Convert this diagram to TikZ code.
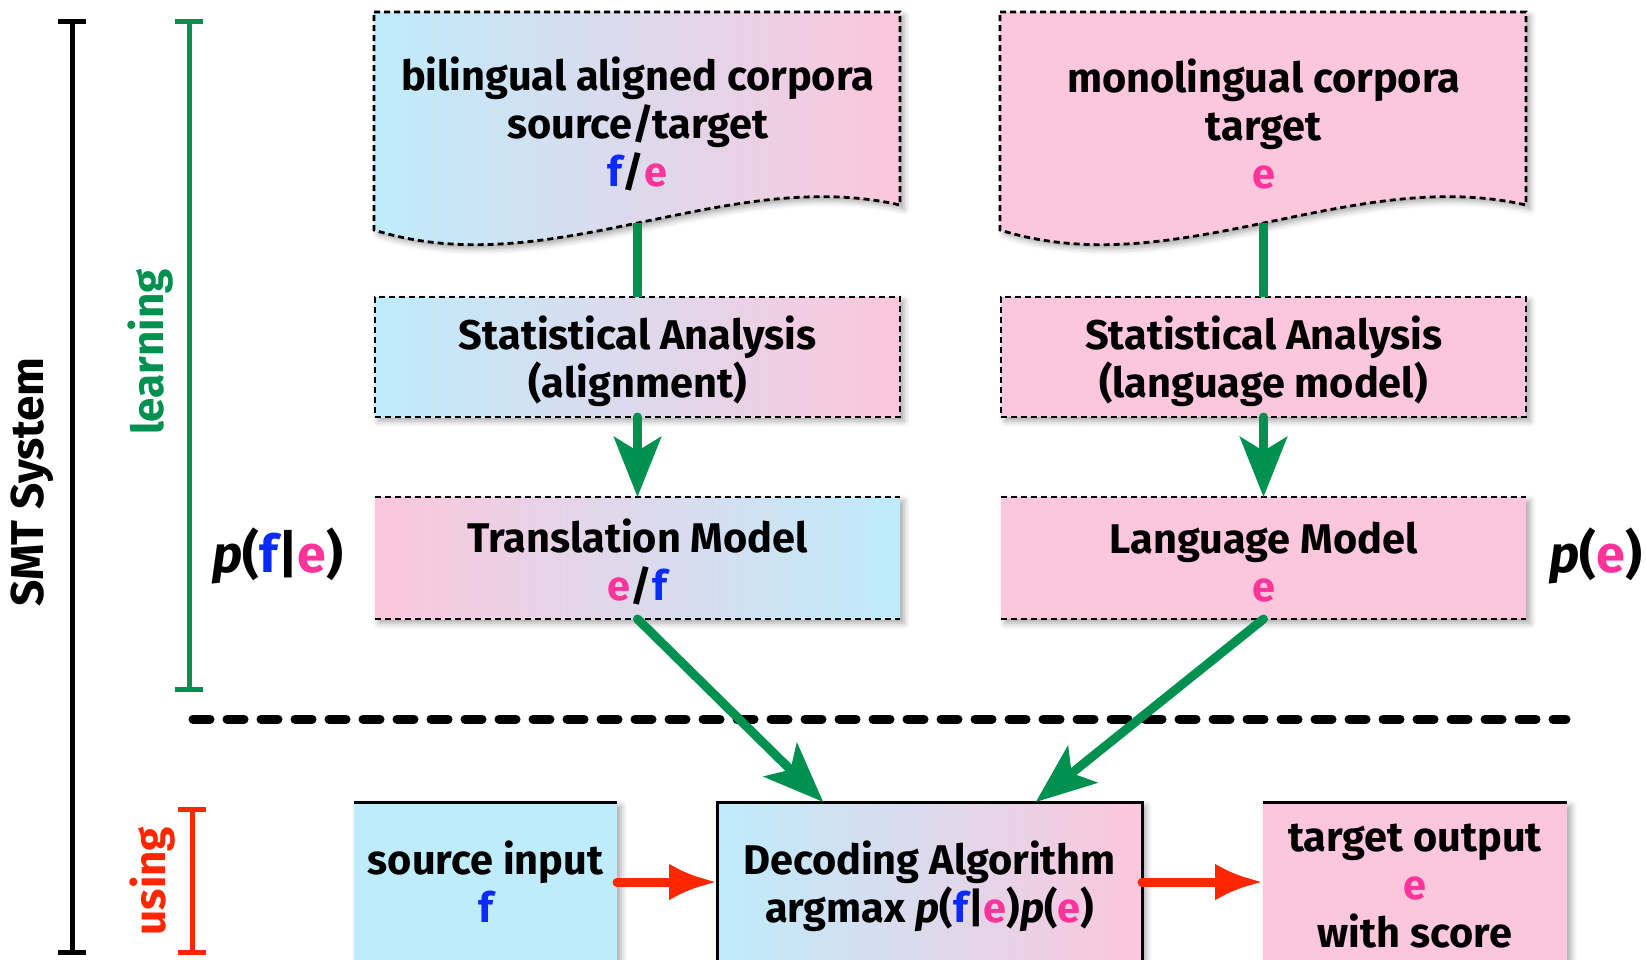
\documentclass[tikz,border=0pt]{standalone}
\usepackage{fontspec}
\setmainfont{Fira Sans}
\usetikzlibrary{arrows.meta,shadows.blur,calc}

\definecolor{cyanbox}{HTML}{BEECFB}
\definecolor{pinkbox}{HTML}{FCC6DC}
\definecolor{flowgreen}{HTML}{00904F}
\definecolor{flowred}{HTML}{FF2600}
\definecolor{srcblue}{HTML}{0A2AFF}
\definecolor{tgtpink}{HTML}{FF3399}

\newcommand{\fsym}{\textcolor{srcblue}{f}}
\newcommand{\esym}{\textcolor{tgtpink}{e}}
\newcommand{\prob}{{\itshape p}}

\begin{document}
\begin{tikzpicture}[x=1bp,y=-1bp,
  boxshadow/.style={blur shadow={shadow xshift=4bp,shadow yshift=-4bp,
      shadow blur radius=6bp,shadow opacity=35}},
  bluepink/.style={left color=cyanbox,right color=pinkbox},
  pinkblue/.style={left color=pinkbox,right color=cyanbox},
  thindash/.style={line width=2.8bp,dash pattern=on 6bp off 4bp},
  txt/.style={font=\fontsize{41.5bp}{48bp}\selectfont\bfseries,align=center,inner sep=0pt},
  boxtxt/.style={txt,yshift=-4bp},
  panel/.style={boxshadow,minimum width=525bp,inner sep=0pt,outer sep=0pt},
  lowbox/.style={boxshadow,minimum height=160bp,inner sep=0pt,outer sep=0pt},
  solidtop/.style={line width=3bp},
  gline/.style={draw=flowgreen,line width=9bp},
  garrow/.style={draw=flowgreen,line width=9bp,line cap=round,
      -{Stealth[length=60bp,width=47bp,inset=14bp]}},
  rarrow/.style={draw=flowred,line width=9bp,line cap=round,
      -{Latex[length=48bp,width=37bp]}},
  plabel/.style={font=\fontsize{52bp}{60bp}\selectfont\bfseries},
  sidelabel/.style={rotate=90,font=\fontsize{44bp}{50bp}\selectfont\bfseries},
  sepline/.style={line width=9bp,line cap=round,dash pattern=on 17bp off 17bp},
  bracket/.style={line width=5bp}
]
\useasboundingbox (0,0) rectangle (1646,959);
\clip (0,0) rectangle (1646,959);

% brackets on the left
\draw[bracket] (72,21) -- (72,952);
\draw[bracket] (58,21) -- (86,21);
\draw[bracket] (58,952) -- (86,952);
\node[sidelabel,font=\fontsize{46bp}{50bp}\selectfont\bfseries] (smt) at (32,482) {SMT System};

\draw[bracket,flowgreen] (189,21) -- (189,689);
\draw[bracket,flowgreen] (175,21) -- (203,21);
\draw[bracket,flowgreen] (175,689) -- (203,689);
\node[sidelabel,text=flowgreen] (learn) at (151,352) {learning};

\draw[bracket,flowred] (192,809) -- (192,952);
\draw[bracket,flowred] (178,809) -- (206,809);
\draw[bracket,flowred] (178,952) -- (206,952);
\node[sidelabel,text=flowred] (use) at (153,881) {using};

% corpora (document shapes)
\path[draw,thindash,bluepink,boxshadow]
  (374,12) -- (900,12) -- (900,205)
  .. controls (725,165) and (549,285) .. (374,230) -- cycle;
\node[txt] (bil) at (637.5,124) {bilingual aligned corpora\\source/target\\\fsym/\esym};
\coordinate (bil-bot) at (637.5,223);

\path[draw,thindash,fill=pinkbox,boxshadow]
  (1000,12) -- (1526,12) -- (1526,205)
  .. controls (1351,165) and (1175,285) .. (1000,230) -- cycle;
\node[txt] (mono) at (1263.5,124) {monolingual corpora\\target\\\esym};
\coordinate (mono-bot) at (1263.5,223);

% statistical analysis
\node[panel,bluepink,draw,thindash,minimum height=120bp] (sa1) at (637.5,357) {};
\node[boxtxt] (sa1t) at (sa1) {Statistical Analysis\\(alignment)};
\node[panel,fill=pinkbox,draw,thindash,minimum height=120bp] (sa2) at (1263.5,357) {};
\node[boxtxt] (sa2t) at (sa2) {Statistical Analysis\\(language model)};

% models
\node[panel,pinkblue,minimum height=122bp] (tm) at (637.5,558) {};
\draw[thindash] (tm.north west) -- (tm.north east);
\draw[thindash] (tm.south west) -- (tm.south east);
\node[boxtxt] (tmt) at (tm) {Translation Model\\\esym/\fsym};
\node[panel,fill=pinkbox,minimum height=122bp] (lm) at (1263.5,558) {};
\draw[thindash] (lm.north west) -- (lm.north east);
\draw[thindash] (lm.south west) -- (lm.south east);
\node[boxtxt] (lmt) at (lm) {Language Model\\\esym};

\node[plabel] (pfe) at (278,556) {\prob(\fsym|\esym)};
\node[plabel] (pe) at (1596,556) {\prob(\esym)};

% learning / using separator
\draw[sepline] (193,719) -- (1566,719);

% decoding row
\node[lowbox,fill=cyanbox,minimum width=263bp] (src) at (485.5,882) {};
\draw[solidtop] (src.north west) -- (src.north east);
\node[txt] (srct) at (src) {source input\\\fsym};
\node[lowbox,bluepink,draw,line width=3bp,minimum width=425bp] (dec) at (929.5,882) {};
\node[boxtxt] (dect) at (dec) {Decoding Algorithm\\argmax \prob(\fsym|\esym)\prob(\esym)};
\node[lowbox,fill=pinkbox,minimum width=304bp] (tgt) at (1415,882) {};
\draw[solidtop] (tgt.north west) -- (tgt.north east);
\node[boxtxt] (tgtt) at (tgt) {target output\\\esym\\with score};

% connectors
\draw[gline] (bil-bot) -- (sa1.north);
\draw[gline] (mono-bot) -- (sa2.north);
\draw[garrow] (sa1.south) -- (tm.north);
\draw[garrow] (sa2.south) -- (lm.north);
\draw[garrow] (tm.south) -- ($(dec.north west)!0.25!(dec.north east)$);
\draw[garrow] (lm.south) -- ($(dec.north west)!0.75!(dec.north east)$);
\draw[rarrow] (src.east) -- (dec.west);
\draw[rarrow] (dec.east) -- (tgt.west);
\end{tikzpicture}
\end{document}
